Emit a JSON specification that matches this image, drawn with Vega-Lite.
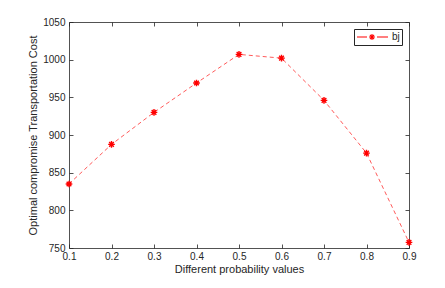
{
  "$schema": "https://vega.github.io/schema/vega-lite/v6.json",
  "width": 340,
  "height": 226,
  "autosize": {"type": "none"},
  "padding": {"left": 69, "top": 22, "right": 36, "bottom": 40},
  "background": "white",
  "config": {
    "view": {"stroke": null},
    "font": "Liberation Sans",
    "axis": {
      "grid": false,
      "domainColor": "#262626",
      "tickColor": "#262626",
      "labelColor": "#262626",
      "titleColor": "#262626",
      "labelFont": "Liberation Sans",
      "titleFont": "Liberation Sans",
      "labelFontSize": 10,
      "titleFontSize": 11,
      "titleFontWeight": "normal",
      "tickSize": -4,
      "domainWidth": 0.8,
      "tickWidth": 0.8,
      "labelFlush": false,
      "labelOverlap": false
    }
  },
  "data": {
    "values": [
      {"p": 0.1, "cost": 835, "s": "bj"},
      {"p": 0.2, "cost": 887.5, "s": "bj"},
      {"p": 0.3, "cost": 930, "s": "bj"},
      {"p": 0.4, "cost": 969, "s": "bj"},
      {"p": 0.5, "cost": 1007, "s": "bj"},
      {"p": 0.6, "cost": 1002, "s": "bj"},
      {"p": 0.7, "cost": 946, "s": "bj"},
      {"p": 0.8, "cost": 876, "s": "bj"},
      {"p": 0.9, "cost": 757.5, "s": "bj"}
    ]
  },
  "layer": [
    {
      "mark": {"type": "line", "strokeDash": [4, 3], "strokeWidth": 0.8, "color": "#ff3030"},
      "encoding": {
        "x": {"field": "p", "type": "quantitative", "scale": {"domain": [0.1, 0.9], "nice": false},
          "axis": {"orient": "bottom", "values": [0.1,0.2,0.3,0.4,0.5,0.6,0.7,0.8,0.9], "format": ".1f", "title": "Different probability values", "labelPadding": 7, "titlePadding": 2}},
        "y": {"field": "cost", "type": "quantitative", "scale": {"domain": [750, 1050], "nice": false, "zero": false},
          "axis": {"orient": "left", "values": [750,800,850,900,950,1000,1050], "format": "d", "title": "Optimal compromise Transportation Cost", "labelPadding": 8, "titlePadding": 4}}
      }
    },
    {
      "mark": {"type": "point", "filled": false, "strokeWidth": 1.4, "shape": "M-1,0L1,0M0,-1L0,1M-0.7,-0.7L0.7,0.7M-0.7,0.7L0.7,-0.7", "size": 44, "opacity": 1},
      "encoding": {
        "x": {"field": "p", "type": "quantitative", "axis": null},
        "y": {"field": "cost", "type": "quantitative", "axis": null},
        "color": {"field": "s", "type": "nominal", "scale": {"range": ["#ff0000"]},
          "legend": {"title": null, "orient": "top-right", "offset": 7, "strokeColor": "#262626", "fillColor": "white", "padding": 2,
            "symbolType": "M-1,0L1,0M3,0L5.2,0M1.4,0L2.6,0M2,-0.6L2,0.6M1.58,-0.42L2.42,0.42M1.58,0.42L2.42,-0.42",
            "symbolSize": 100, "symbolStrokeWidth": 1.1, "symbolFillColor": "transparent", "labelFontSize": 10, "labelColor": "#262626", "labelOffset": 24}}
      }
    },
    {
      "mark": {"type": "point", "opacity": 0},
      "encoding": {
        "x": {"field": "p", "type": "quantitative", "axis": {"orient": "top", "values": [0.1,0.2,0.3,0.4,0.5,0.6,0.7,0.8,0.9], "labels": false, "title": null}},
        "y": {"field": "cost", "type": "quantitative", "axis": {"orient": "right", "values": [750,800,850,900,950,1000,1050], "labels": false, "title": null}}
      }
    }
  ],
  "resolve": {"axis": {"x": "independent", "y": "independent"}}
}
